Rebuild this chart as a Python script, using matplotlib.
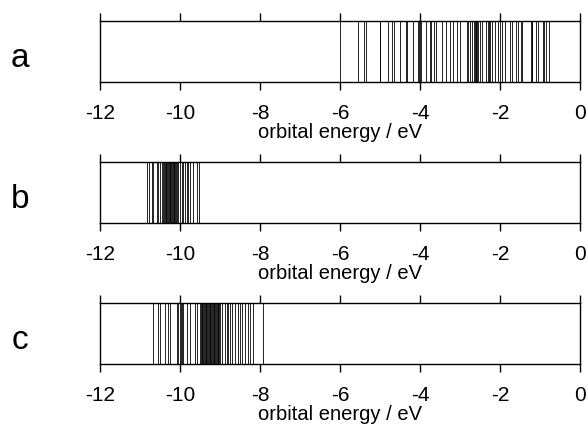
import matplotlib
matplotlib.use("Agg")
import matplotlib.pyplot as plt

plt.rcParams['font.family'] = ['Liberation Sans', 'DejaVu Sans']

# orbital energies (eV)
a_levels = [-6.01, -5.54, -5.41, -5.35, -5.01, -4.99, -4.79, -4.71, -4.64, -4.51,
            -4.36, -4.33, -4.18, -4.05, -4.03, -4.01, -3.98, -3.85, -3.76, -3.72,
            -3.66, -3.59, -3.46, -3.36, -3.25, -3.17, -3.08, -3.00, -2.83, -2.79,
            -2.75, -2.70, -2.66, -2.63, -2.61, -2.59, -2.57, -2.55, -2.50, -2.45,
            -2.36, -2.30, -2.27, -2.25, -2.21, -2.13, -2.06, -2.01, -1.94, -1.88,
            -1.75, -1.70, -1.59, -1.56, -1.48, -1.44, -1.23, -1.21, -1.19, -1.10,
            -1.05, -0.93, -0.89, -0.85, -0.78]
b_levels = [-10.82, -10.77, -10.71, -10.67, -10.58, -10.54, -10.50, -10.46, -10.42,
            -10.40, -10.38, -10.36, -10.34, -10.32, -10.30, -10.28, -10.26, -10.24,
            -10.22, -10.20, -10.18, -10.16, -10.14, -10.12, -10.10, -10.08, -10.04,
            -10.00, -9.96, -9.92, -9.88, -9.83, -9.79, -9.75, -9.67, -9.58, -9.52]
c_levels = [-10.67, -10.54, -10.50, -10.38, -10.29, -10.25, -10.07, -10.04, -10.01,
            -9.98, -9.96, -9.92, -9.83, -9.75, -9.63, -9.58, -9.50, -9.48, -9.46,
            -9.44, -9.42, -9.40, -9.38, -9.36, -9.34, -9.32, -9.30, -9.28, -9.26,
            -9.24, -9.22, -9.20, -9.18, -9.16, -9.14, -9.12, -9.10, -9.08, -9.06,
            -9.04, -9.02, -9.00, -8.96, -8.88, -8.83, -8.80, -8.76, -8.71, -8.63,
            -8.55, -8.50, -8.46, -8.38, -8.30, -8.25, -8.17, -7.92]

panels = ['a', 'b', 'c']
levels = [a_levels, b_levels, c_levels]
ticks = [-12, -10, -8, -6, -4, -2, 0]
tick_labels = ['-12', '-10', '-8', '-6', '-4', '-2', '0']

fig = plt.figure(figsize=(5.88, 4.24), dpi=100)
bottoms = [0.8066, 0.4741, 0.1415]
for name, lev, b in zip(panels, levels, bottoms):
    ax = fig.add_axes([0.1701, b, 0.8163, 0.1439])
    ax.vlines(lev, 0, 1, color='k', lw=0.6)
    ax.set_xlim(-12, 0)
    ax.set_ylim(0, 1)
    ax.set_yticks([])
    ax.set_xticks(ticks)
    ax.set_xticklabels(tick_labels, fontsize=15)
    ax.tick_params(axis='x', direction='out', length=5.5, width=1, top=True, pad=10)
    for s in ax.spines.values():
        s.set_linewidth(1)
    ax.set_xlabel('orbital energy / eV', fontsize=14.5, labelpad=0)
    ax.text(-0.167, 0.25, name, transform=ax.transAxes, fontsize=24,
            ha='center', va='baseline')

fig.savefig('out.png', dpi=100)
